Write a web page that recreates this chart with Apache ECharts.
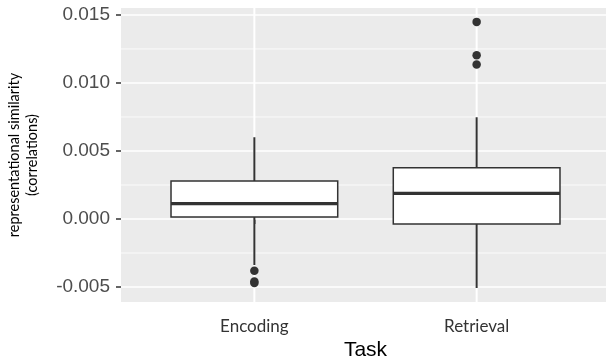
<!DOCTYPE html>
<html><head><meta charset="utf-8">
<script src="https://cdn.jsdelivr.net/npm/echarts@6/dist/echarts.min.js"></script>
<style>html,body{margin:0;padding:0;background:#fff}#c{width:606px;height:357px}</style>
</head><body><div id="c"></div>
<script>
const categories = ['Encoding', 'Retrieval'];
const whiskerLow  = [-0.00338, -0.00507];
const q1          = [0.00015, -0.00037];
const median      = [0.00113, 0.00189];
const q3          = [0.00279, 0.00377];
const whiskerHigh = [0.00601, 0.00748];
const outliersEncoding  = [-0.0038, -0.0046, -0.0047];
const outliersRetrieval = [0.01449, 0.01204, 0.01135];
const yTicks = [-0.005, 0, 0.005, 0.010, 0.015];
const yMinor = [-0.0025, 0.0025, 0.0075, 0.0125];

const xPos = categories.map((c, i) => i + 1);
const boxData = xPos.map((x, i) => [x, whiskerLow[i], q1[i], median[i], q3[i], whiskerHigh[i]]);
const outlierData = outliersEncoding.map(v => [1, v]).concat(outliersRetrieval.map(v => [2, v]));
const gridData = yTicks.map(v => [0, v]).concat(yMinor.map(v => [1, v])).concat(xPos.map(x => [2, x]));

const chart = echarts.init(document.getElementById('c'));
const halfW = 0.375;
chart.setOption({
  animation: false,
  grid: { left: 121, right: -4, top: 8, bottom: 55, show: true, backgroundColor: '#EBEBEB', borderWidth: 0,
    containLabel: false, outerBoundsMode: 'none' },
  xAxis: {
    type: 'value', min: 0.4, max: 2.6,
    name: 'Task', nameLocation: 'middle', nameGap: 34,
    nameTextStyle: { fontFamily: 'Liberation Sans', fontSize: 21, color: '#000' },
    axisLine: { show: false },
    axisTick: { show: true, customValues: xPos, length: 5, lineStyle: { color: '#333', width: 1.5 } },
    axisLabel: { customValues: xPos, formatter: v => categories[Math.round(v) - 1], margin: 16,
      fontFamily: 'Lato', fontSize: 17, color: '#333' },
    splitLine: { show: false }
  },
  yAxis: {
    type: 'value', min: -0.0061, max: 0.01551,
    name: 'representational similarity\n(correlations)', nameLocation: 'middle', nameRotate: 90, nameGap: 80,
    nameTextStyle: { fontFamily: 'Lato', fontSize: 14.5, lineHeight: 18, color: '#000', align: 'center' },
    axisLine: { show: false },
    axisTick: { show: true, customValues: yTicks, length: 5, lineStyle: { color: '#333', width: 1.5 } },
    axisLabel: { customValues: yTicks, formatter: v => v.toFixed(3), margin: 11,
      fontFamily: 'Liberation Sans', fontSize: 19, color: '#4d4d4d' },
    splitLine: { show: false }
  },
  series: [
    {
      type: 'custom', z: 1, silent: true, data: gridData,
      renderItem: (params, api) => {
        const cs = params.coordSys;
        const kind = api.value(0), v = api.value(1);
        if (kind === 2) {
          const x = api.coord([v, 0])[0];
          return { type: 'line', shape: { x1: x, y1: cs.y, x2: x, y2: cs.y + cs.height }, style: { stroke: '#fff', lineWidth: 2 } };
        }
        const y = api.coord([1, v])[1];
        return { type: 'line', shape: { x1: cs.x, y1: y, x2: cs.x + cs.width, y2: y },
          style: { stroke: '#fff', lineWidth: kind === 0 ? 1.5 : 0.8 } };
      }
    },
    {
      type: 'custom', z: 2, data: boxData, encode: { x: 0, y: [1, 2, 3, 4, 5] },
      renderItem: (params, api) => {
        const x = api.value(0);
        const lo = api.coord([x, api.value(1)]);
        const b1 = api.coord([x - halfW, api.value(2)]);
        const md = api.coord([x - halfW, api.value(3)]);
        const b3 = api.coord([x + halfW, api.value(4)]);
        const hi = api.coord([x, api.value(5)]);
        const stroke = '#333';
        return { type: 'group', children: [
          { type: 'line', shape: { x1: hi[0], y1: hi[1], x2: hi[0], y2: b3[1] }, style: { stroke, lineWidth: 2 } },
          { type: 'line', shape: { x1: lo[0], y1: lo[1], x2: lo[0], y2: b1[1] }, style: { stroke, lineWidth: 2 } },
          { type: 'rect', shape: { x: b1[0], y: b3[1], width: b3[0] - b1[0], height: b1[1] - b3[1] },
            style: { fill: '#fff', stroke, lineWidth: 1.5 } },
          { type: 'line', shape: { x1: b1[0], y1: md[1], x2: b3[0], y2: md[1] }, style: { stroke, lineWidth: 3.2 } }
        ]};
      }
    },
    {
      type: 'scatter', z: 3, data: outlierData, symbolSize: 8.5, itemStyle: { color: '#333', opacity: 1 }
    }
  ]
});
</script></body></html>
